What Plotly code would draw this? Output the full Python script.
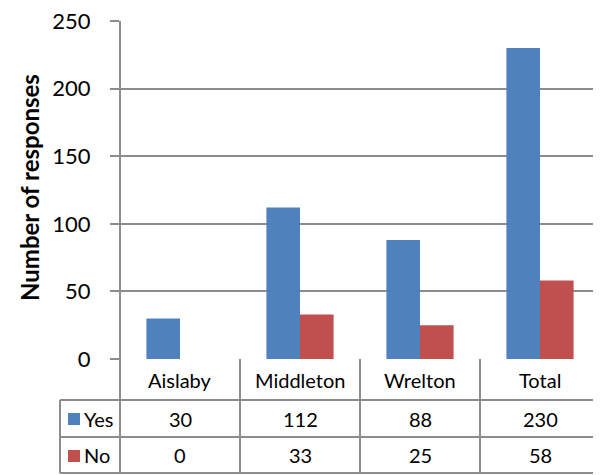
import plotly.graph_objects as go

categories = ["Aislaby", "Middleton", "Wrelton", "Total"]
yes_values = [30, 112, 88, 230]
no_values = [0, 33, 25, 58]
series_names = ["Yes", "No"]
y_ticks = [0, 50, 100, 150, 200, 250]

BLUE = "#4F81BD"
RED = "#C0504D"
GRID = "#8c8c8c"
FONT = "Lato, 'Liberation Sans', sans-serif"

# page body has an 8px margin; compensate so the chart lands at the reference position
OFF = 8
W, H = 601 - OFF, 475 - OFF
L, R, T, B = 120 - OFF, 1, 21 - OFF, 116
PW = W - L - R
PH = H - T - B
ZERO = H - B + OFF  # page pixel of y=0

def px_x(p):
    return (p - OFF - L) / PW

def px_y(p):
    return (ZERO - p) / PH

fig = go.Figure()
fig.add_bar(x=list(range(len(categories))), y=yes_values, name=series_names[0],
            marker=dict(color=BLUE, line=dict(width=0)))
fig.add_bar(x=list(range(len(categories))), y=no_values, name=series_names[1],
            marker=dict(color=RED, line=dict(width=0)))

shapes = []
line = dict(color=GRID, width=2)
shapes.append(dict(type="line", xref="paper", yref="paper", x0=0, x1=0,
                   y0=1, y1=px_y(473), line=line))
for i in range(len(categories)):
    xb = i + 0.5
    shapes.append(dict(type="line", xref="x", yref="paper", x0=xb, x1=xb,
                       y0=0, y1=px_y(473), line=line))
for p in [400, 437, 473]:
    shapes.append(dict(type="line", xref="paper", yref="paper", x0=px_x(60), x1=1,
                       y0=px_y(p), y1=px_y(p), line=line))
shapes.append(dict(type="line", xref="paper", yref="paper", x0=px_x(60), x1=px_x(60),
                   y0=px_y(400), y1=px_y(473), line=line))
for color, (ytop, ybot) in zip([BLUE, RED], [(413, 425), (450, 462)]):
    shapes.append(dict(type="rect", xref="paper", yref="paper", x0=px_x(68), x1=px_x(80),
                       y0=px_y(ybot), y1=px_y(ytop), fillcolor=color, line=dict(width=0)))

annotations = []
tf = dict(family=FONT, size=20, color="#000000")
for i, c in enumerate(categories):
    annotations.append(dict(x=i, y=px_y(380), xref="x", yref="paper", text=c,
                            showarrow=False, font=tf, xanchor="center", yanchor="middle"))
    annotations.append(dict(x=i, y=px_y(418.5), xref="x", yref="paper", text=str(yes_values[i]),
                            showarrow=False, font=tf, xanchor="center", yanchor="middle"))
    annotations.append(dict(x=i, y=px_y(455), xref="x", yref="paper", text=str(no_values[i]),
                            showarrow=False, font=tf, xanchor="center", yanchor="middle"))
for name, yc in zip(series_names, [418.5, 455]):
    annotations.append(dict(x=px_x(82), y=px_y(yc), xref="paper", yref="paper", text=name,
                            showarrow=False, font=tf, xanchor="left", yanchor="middle"))
annotations.append(dict(x=px_x(29), y=px_y(188), xref="paper", yref="paper",
                        text="<b>Number of responses</b>", textangle=-90, showarrow=False,
                        font=dict(family=FONT, size=24, color="#000000"),
                        xanchor="center", yanchor="middle"))

fig.update_layout(
    width=W, height=H,
    margin=dict(l=L, r=R, t=T, b=B, autoexpand=False),
    paper_bgcolor="white", plot_bgcolor="white",
    barmode="group", bargap=0.44, bargroupgap=0,
    showlegend=False,
    shapes=shapes, annotations=annotations,
    font=dict(family=FONT, color="#000000"),
)
fig.update_xaxes(range=[-0.5, len(categories) - 0.5], showticklabels=False,
                 showgrid=False, zeroline=False, showline=False, ticks="", automargin=False)
fig.update_yaxes(range=[0, 250], tickvals=y_ticks, showgrid=True, gridcolor=GRID,
                 gridwidth=2, zeroline=False, showline=False, ticks="outside",
                 ticklen=9, tickwidth=2, tickcolor=GRID, automargin=False,
                 tickfont=dict(family=FONT, size=22, color="#000000"),
                 ticklabelstandoff=15, ticklabeloverflow="allow")

fig.write_html("out.html")
